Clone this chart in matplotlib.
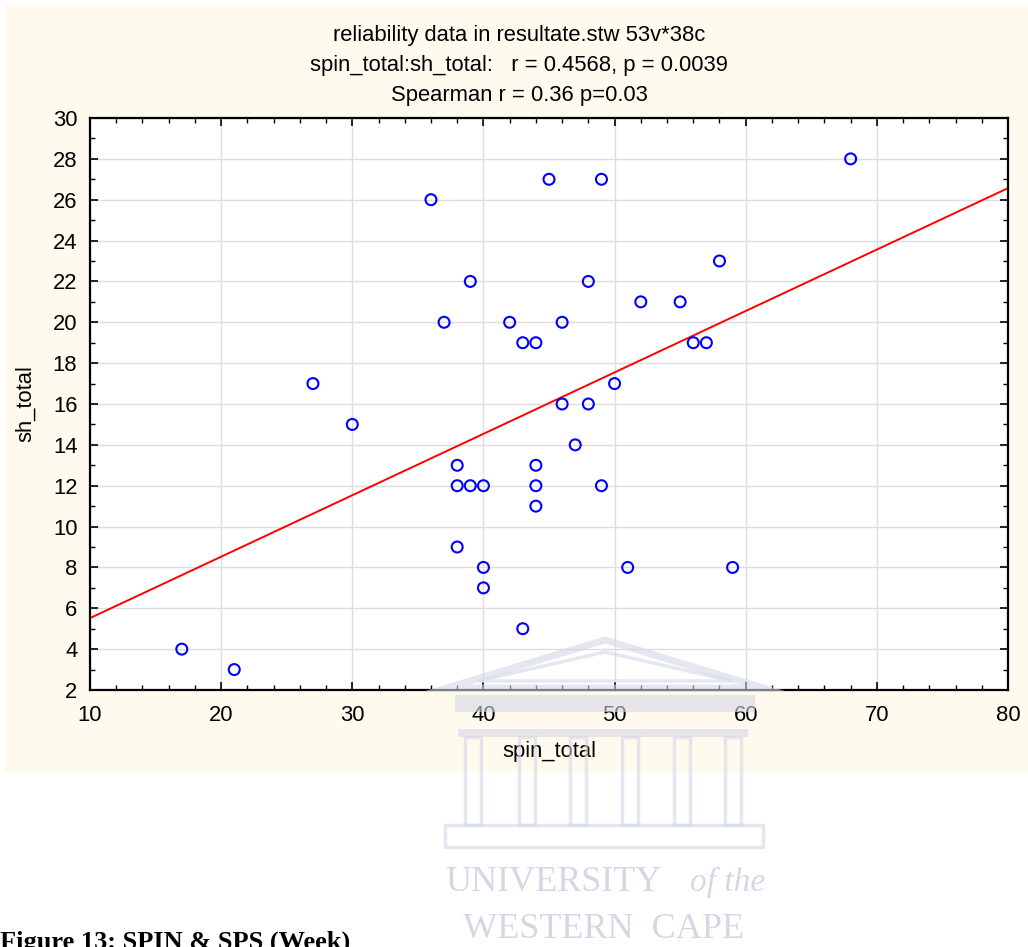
import matplotlib.pyplot as plt
from matplotlib.patches import Rectangle, Polygon
from matplotlib.ticker import MultipleLocator
import numpy as np

# 38 cases
spin_total = [17, 21, 27, 30, 36, 37, 38, 38, 38, 39, 39, 40, 40, 40, 42, 43, 43, 44, 44,
              44, 44, 45, 46, 46, 47, 48, 48, 49, 49, 50, 51, 52, 55, 56, 57, 58, 59, 68]
sh_total = [4, 3, 17, 15, 26, 20, 13, 12, 9, 22, 12, 12, 8, 7, 20, 19, 5, 19, 13,
            12, 11, 27, 20, 16, 14, 22, 16, 27, 12, 17, 8, 21, 21, 19, 19, 23, 8, 28]

title_lines = ["reliability data in resultate.stw 53v*38c",
               "spin_total:sh_total:   r = 0.4568, p = 0.0039",
               "Spearman r = 0.36 p=0.03"]

plt.rcParams['font.family'] = ['Liberation Sans', 'DejaVu Sans']
FS = 15.8

W, H = 1028, 947
fig = plt.figure(figsize=(W / 100, H / 100), dpi=100)
fig.patch.set_facecolor('white')

def fx(px):
    return px / W

def fy(py):
    return 1 - py / H

# cream panel behind the chart
fig.add_artist(Rectangle((fx(5), fy(772)), fx(1028) - fx(5), fy(5) - fy(772),
                         transform=fig.transFigure, facecolor='#FFFAEE', edgecolor='none', zorder=-10))

ax = fig.add_axes([fx(90), fy(690), fx(1008) - fx(90), fy(118) - fy(690)])
ax.set_facecolor('white')

x = np.array(spin_total)
y = np.array(sh_total)
ax.scatter(x, y, s=62, facecolors='none', edgecolors='#0000FF', linewidths=1.5, zorder=3)

ax.set_xlim(10, 80)
ax.set_ylim(2, 30)
slope, icpt = np.polyfit(x, y, 1)
xs = np.array(ax.get_xlim())
ax.plot(xs, icpt + slope * xs, color='#FF0000', lw=1.4, zorder=2)

ax.xaxis.set_major_locator(MultipleLocator(10))
ax.xaxis.set_minor_locator(MultipleLocator(2))
ax.yaxis.set_major_locator(MultipleLocator(2))
ax.yaxis.set_minor_locator(MultipleLocator(1))
ax.grid(True, which='major', color='#DDDDDD', lw=1.0, zorder=0)
ax.set_axisbelow(True)
ax.tick_params(which='both', direction='in', top=True, right=True, color='black',
               labelsize=FS, labelcolor='black')
ax.tick_params(which='major', length=6, width=1.2)
ax.tick_params(which='minor', length=3.5, width=1.0)
ax.tick_params(axis='x', which='major', pad=10.5)
ax.tick_params(axis='y', which='major', pad=9)
for s in ax.spines.values():
    s.set_linewidth(1.6)
    s.set_color('black')

ax.set_xlabel('spin_total', fontsize=FS, labelpad=11)
ax.set_ylabel('sh_total', fontsize=FS, labelpad=12)

for i, line in enumerate(title_lines):
    fig.text(fx(519), fy(35 + 30 * i), line, ha='center', va='center', fontsize=FS)

# faint university watermark
wm = '#D4D7E6'
wmk = dict(transform=fig.transFigure, zorder=5, alpha=0.6)
fig.add_artist(Polygon([(fx(447), fy(688)), (fx(605), fy(640)), (fx(763), fy(688))],
                       closed=True, fill=False, edgecolor=wm, lw=5, **wmk))
fig.add_artist(Polygon([(fx(478), fy(681)), (fx(605), fy(652)), (fx(732), fy(681))],
                       closed=True, fill=False, edgecolor=wm, lw=2.5, **wmk))
fig.add_artist(Rectangle((fx(455), fy(712)), fx(755) - fx(455), fy(695) - fy(712),
                         facecolor=wm, edgecolor='none', **wmk))
fig.add_artist(Rectangle((fx(458), fy(737)), fx(748) - fx(458), fy(729) - fy(737),
                         facecolor=wm, edgecolor='none', **wmk))
for cx in [473, 527, 578, 630, 682, 733]:
    fig.add_artist(Rectangle((fx(cx - 8), fy(825)), fx(16), fy(737) - fy(825),
                             fill=False, edgecolor=wm, lw=2.5, **wmk))
fig.add_artist(Rectangle((fx(445), fy(847)), fx(763) - fx(445), fy(825) - fy(847),
                         fill=False, edgecolor=wm, lw=2.5, **wmk))
serif = ['Liberation Serif', 'DejaVu Serif']
fig.text(fx(445), fy(882), 'UNIVERSITY', ha='left', va='center',
         fontsize=26, color=wm, family=serif, zorder=5)
fig.text(fx(765), fy(882), 'of the', ha='right', va='center', style='italic',
         fontsize=24, color=wm, family=serif, zorder=5)
fig.text(fx(604), fy(929), 'WESTERN  CAPE', ha='center', va='center',
         fontsize=26, color=wm, family=serif, zorder=5)

# caption cut off by the page edge
fig.text(fx(0), fy(931), 'Figure 13: SPIN & SPS (Week)', ha='left', va='top',
         fontsize=19, fontweight='bold', family=serif)

fig.savefig('out.png', dpi=100)
